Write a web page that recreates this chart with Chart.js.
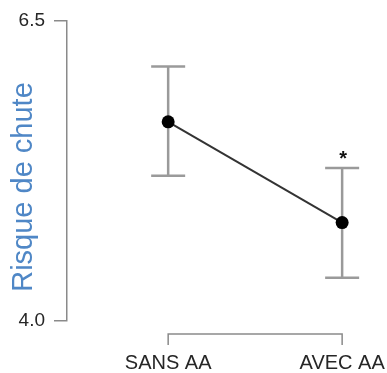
<!DOCTYPE html>
<html>
<head>
<meta charset="utf-8">
<script src="https://cdn.jsdelivr.net/npm/chart.js@4"></script>
<style>
  html, body { margin: 0; padding: 0; background: #ffffff; }
  #wrap { width: 387px; height: 373px; position: relative; }
</style>
</head>
<body>
<div id="wrap"><canvas id="c"></canvas></div>
<script>
// ---- data ----
const categories = ['SANS AA', 'AVEC AA'];
const means = [5.66, 4.82];
const upper = [6.12, 5.275];
const lower = [5.21, 4.36];
const markers = ['', '*'];
const yTicks = [4.0, 6.5];
const yTitle = 'Risque de chute';

const FONT = "'Liberation Sans', Arial, Helvetica, sans-serif";

const errorBars = {
  id: 'errorBars',
  beforeDatasetsDraw(chart) {
    const ctx = chart.ctx, xs = chart.scales.x, ys = chart.scales.y;
    ctx.save();
    ctx.strokeStyle = '#9a9a9a';
    ctx.lineWidth = 2.5;
    categories.forEach((c, i) => {
      const px = xs.getPixelForValue(i);
      const top = ys.getPixelForValue(upper[i]);
      const bot = ys.getPixelForValue(lower[i]);
      ctx.beginPath();
      ctx.moveTo(px, top); ctx.lineTo(px, bot);
      ctx.moveTo(px - 17, top); ctx.lineTo(px + 17, top);
      ctx.moveTo(px - 17, bot); ctx.lineTo(px + 17, bot);
      ctx.stroke();
    });
    ctx.restore();
  },
  afterDatasetsDraw(chart) {
    const ctx = chart.ctx, xs = chart.scales.x, ys = chart.scales.y;
    ctx.save();
    ctx.fillStyle = '#111';
    ctx.font = 'bold 20px ' + FONT;
    ctx.textAlign = 'center';
    ctx.textBaseline = 'middle';
    categories.forEach((c, i) => {
      if (!markers[i]) return;
      const px = xs.getPixelForValue(i);
      const top = ys.getPixelForValue(upper[i]);
      ctx.fillText(markers[i], px + 1, top - 9);
    });
    ctx.restore();
  }
};

const bracket = {
  id: 'bracket',
  afterDraw(chart) {
    const ctx = chart.ctx, xs = chart.scales.x;
    const y0 = chart.chartArea.bottom + 13;
    const x0 = xs.getPixelForValue(0);
    const x1 = xs.getPixelForValue(categories.length - 1);
    ctx.save();
    ctx.strokeStyle = '#8a8a8a';
    ctx.lineWidth = 1.5;
    ctx.beginPath();
    ctx.moveTo(x0, y0 + 11); ctx.lineTo(x0, y0); ctx.lineTo(x1, y0); ctx.lineTo(x1, y0 + 11);
    ctx.stroke();
    ctx.restore();
  }
};

const yTitlePlugin = {
  id: 'yTitlePlugin',
  afterDraw(chart) {
    const ctx = chart.ctx, ys = chart.scales.y;
    ctx.save();
    ctx.translate(24, (ys.top + ys.bottom) / 2 + 16);
    ctx.rotate(-Math.PI / 2);
    ctx.fillStyle = '#4f87c6';
    ctx.font = '29px ' + FONT;
    ctx.textAlign = 'center';
    ctx.textBaseline = 'middle';
    ctx.fillText(yTitle, 0, 0);
    ctx.restore();
  }
};

new Chart(document.getElementById('c'), {
  type: 'line',
  data: {
    datasets: [{
      data: means.map((v, i) => ({ x: i, y: v })),
      borderColor: '#333333',
      borderWidth: 2,
      pointRadius: 6.5,
      pointHoverRadius: 6.5,
      pointBackgroundColor: '#000000',
      pointBorderColor: '#000000',
      pointBorderWidth: 0,
      tension: 0
    }]
  },
  options: {
    responsive: true,
    maintainAspectRatio: false,
    animation: false,
    events: [],
    layout: { padding: { top: 21, right: 0, bottom: 0, left: 0 } },
    plugins: { legend: { display: false }, tooltip: { enabled: false } },
    scales: {
      x: {
        type: 'linear',
        min: -0.5815,
        max: 1.2205,
        afterBuildTicks(scale) { scale.ticks = categories.map((c, i) => ({ value: i })); },
        afterFit(scale) { scale.height = 52; scale.paddingLeft = 0; scale.paddingRight = 0; },
        ticks: {
          callback: (v) => categories[v],
          font: { family: FONT, size: 20 },
          color: '#262626',
          padding: 30,
          maxRotation: 0,
          autoSkip: false
        },
        grid: { display: false, drawTicks: false },
        border: { display: false }
      },
      y: {
        min: 4,
        max: 6.5,
        afterBuildTicks(scale) { scale.ticks = yTicks.map(v => ({ value: v })); },
        afterFit(scale) { scale.width = 67; },
        ticks: {
          callback: (v) => Number(v).toFixed(1),
          font: { family: FONT, size: 19 },
          color: '#262626',
          padding: 9
        },
        grid: { drawOnChartArea: false, tickLength: 13, color: '#8a8a8a', lineWidth: 1.5 },
        border: { display: true, color: '#8a8a8a', width: 1.5 }
      }
    }
  },
  plugins: [errorBars, bracket, yTitlePlugin]
});
</script>
</body>
</html>
